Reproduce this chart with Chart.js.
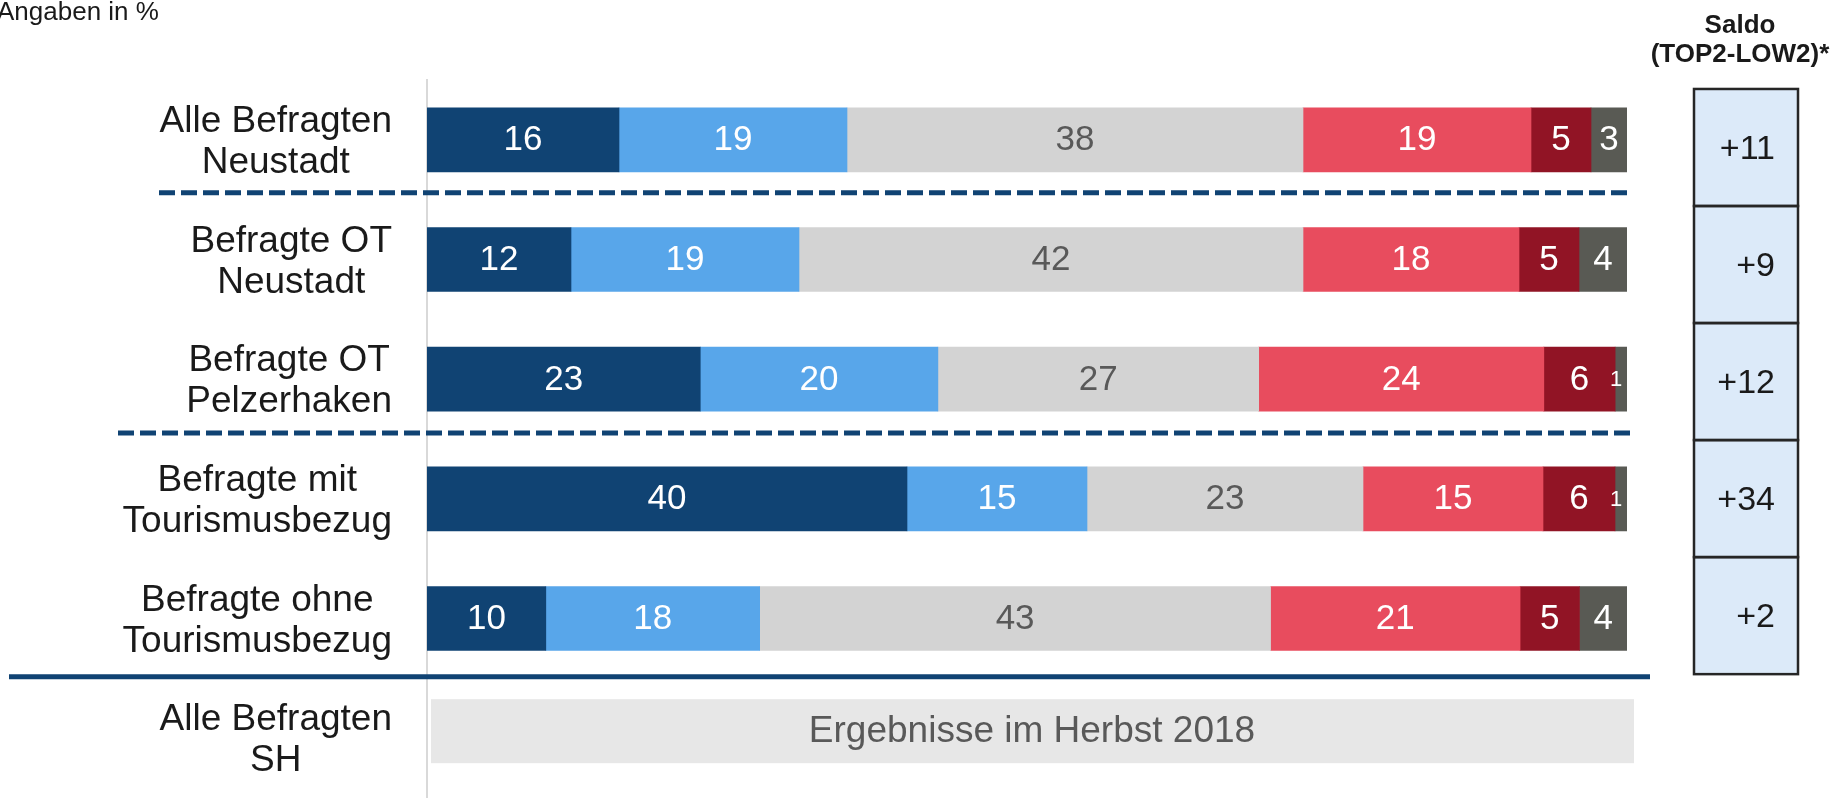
<!DOCTYPE html>
<html>
<head>
<meta charset="utf-8">
<script src="https://cdn.jsdelivr.net/npm/chart.js@4/dist/chart.umd.min.js"></script>
<style>
html,body{margin:0;padding:0;background:#fff;overflow:hidden}
#wrap{position:relative;width:1835px;height:798px}
</style>
</head>
<body>
<div id="wrap"><canvas id="c" width="1835" height="798"></canvas></div>
<script>
// ---- data ----
const categories = [
  ["Alle Befragten", "Neustadt"],
  ["Befragte OT", "Neustadt"],
  ["Befragte OT", "Pelzerhaken"],
  ["Befragte mit", "Tourismusbezug"],
  ["Befragte ohne", "Tourismusbezug"],
  ["Alle Befragten", "SH"]
];
const seriesNames = ["Top 1", "Top 2", "Mitte", "Low 2", "Low 1", "k.A."];
const top1   = [16, 12, 23, 40, 10, null];
const top2   = [19, 19, 20, 15, 18, null];
const middle = [38, 42, 27, 23, 43, null];
const low2   = [19, 18, 24, 15, 21, null];
const low1   = [5, 5, 6, 6, 5, null];
const noAns  = [3, 4, 1, 1, 4, null];
const saldo  = ["+11", "+9", "+12", "+34", "+2"];
const saldoTitle = ["Saldo", "(TOP2-LOW2)*"];
const unitNote = "Angaben in %";
const shNote = "Ergebnisse im Herbst 2018";

// ---- styles ----
const colors = ["#104373", "#58a6ea", "#d3d3d3", "#e84c5e", "#911425", "#595a54"];
const labelColors = ["#ffffff", "#ffffff", "#595959", "#ffffff", "#ffffff", "#ffffff"];
const FONT = '"Liberation Sans", Arial, Helvetica, sans-serif';

const raw = [top1, top2, middle, low2, low1, noAns];
const rowSum = categories.map((_, i) => raw.reduce((s, arr) => s + (arr[i] || 0), 0));
const plotted = raw.map(arr => arr.map((v, i) => v == null ? null : v / rowSum[i] * 100));

const datasets = raw.map((arr, k) => ({
  label: seriesNames[k],
  data: plotted[k],
  rawValues: arr,
  backgroundColor: colors[k],
  borderWidth: 0,
  barThickness: 64,
  labelColor: labelColors[k]
}));

const overlay = {
  id: 'overlay',
  afterDatasetsDraw(chart) {
    const {ctx} = chart;
    ctx.save();
    ctx.textAlign = 'center';
    ctx.textBaseline = 'middle';
    chart.data.datasets.forEach((ds, di) => {
      const meta = chart.getDatasetMeta(di);
      meta.data.forEach((el, i) => {
        const v = ds.rawValues[i];
        if (v == null) return;
        let xc = (el.x + el.base) / 2;
        if (v < 2) {
          ctx.font = '22px ' + FONT;
          xc -= 5;
        } else {
          ctx.font = '35px ' + FONT;
        }
        ctx.fillStyle = ds.labelColor;
        ctx.fillText(String(v), xc, el.y + 1);
      });
    });
    ctx.restore();
  },
  afterDraw(chart) {
    const {ctx, chartArea, scales: {x, y}} = chart;
    const c = i => y.getPixelForValue(i);
    const step = c(1) - c(0);
    const x0 = x.getPixelForValue(0), x100 = x.getPixelForValue(100);
    ctx.save();

    // unit note
    ctx.fillStyle = '#1a1a1a';
    ctx.font = '26px ' + FONT;
    ctx.textAlign = 'left';
    ctx.textBaseline = 'alphabetic';
    ctx.fillText(unitNote, -3, 20);

    // category labels (lines centered within a right-aligned block)
    ctx.font = '37px ' + FONT;
    ctx.fillStyle = '#1a1a1a';
    ctx.textAlign = 'center';
    const rightEdge = chartArea.left - 35;
    categories.forEach((lines, i) => {
      const w = Math.max(...lines.map(l => ctx.measureText(l).width));
      const cx = rightEdge - w / 2;
      const cy = c(i);
      ctx.fillText(lines[0], cx, cy - 8);
      ctx.fillText(lines[1], cx, cy + 33);
    });

    // separators
    ctx.strokeStyle = '#104373';
    ctx.lineWidth = 5;
    ctx.setLineDash([16, 6]);
    const d1 = (c(0) + c(1)) / 2 - 7;
    ctx.beginPath(); ctx.moveTo(159, d1); ctx.lineTo(x100 + 6, d1); ctx.stroke();
    const d2 = (c(2) + c(3)) / 2 - 6;
    ctx.beginPath(); ctx.moveTo(118, d2); ctx.lineTo(x100 + 6, d2); ctx.stroke();
    ctx.setLineDash([]);
    const d3 = (c(4) + c(5)) / 2 - 1.5;
    ctx.beginPath(); ctx.moveTo(9, d3); ctx.lineTo(x100 + 23, d3); ctx.stroke();

    // SH placeholder box
    const shTop = c(5) - 39, shBot = c(5) + 25;
    ctx.fillStyle = '#e7e7e7';
    ctx.fillRect(x0 + 4, shTop, (x100 + 7) - (x0 + 4), shBot - shTop);
    ctx.fillStyle = '#595959';
    ctx.font = '37px ' + FONT;
    ctx.textAlign = 'center';
    ctx.textBaseline = 'middle';
    ctx.fillText(shNote, (x0 + x100) / 2 + 5, (shTop + shBot) / 2 + 1);

    // saldo column
    const bx0 = x100 + 67, bx1 = x100 + 171;
    const bTop = c(0) - 0.425 * step, bBot = c(4) + 0.465 * step;
    const bh = (bBot - bTop) / saldo.length;
    ctx.fillStyle = '#dceaf9';
    ctx.fillRect(bx0, bTop, bx1 - bx0, bBot - bTop);
    ctx.strokeStyle = '#262626';
    ctx.lineWidth = 2.5;
    for (let i = 0; i < saldo.length; i++) {
      ctx.strokeRect(bx0, bTop + i * bh, bx1 - bx0, bh);
    }
    ctx.fillStyle = '#1a1a1a';
    ctx.font = '34px ' + FONT;
    ctx.textAlign = 'right';
    ctx.textBaseline = 'middle';
    saldo.forEach((s, i) => {
      ctx.fillText(s, bx1 - 23, bTop + (i + 0.5) * bh + 2);
    });

    // saldo heading
    ctx.font = 'bold 26px ' + FONT;
    ctx.textAlign = 'center';
    ctx.textBaseline = 'alphabetic';
    ctx.fillText(saldoTitle[0], 1740, 33);
    ctx.fillText(saldoTitle[1], 1740, 62);

    ctx.restore();
  }
};

new Chart(document.getElementById('c'), {
  type: 'bar',
  data: {
    labels: categories,
    datasets: datasets
  },
  options: {
    indexAxis: 'y',
    responsive: false,
    animation: false,
    maintainAspectRatio: false,
    layout: {padding: {top: 80, right: 208, bottom: 0, left: 0}},
    plugins: {legend: {display: false}, tooltip: {enabled: false}},
    scales: {
      x: {stacked: true, min: 0, max: 100, display: false},
      y: {
        stacked: true,
        grid: {display: false, drawTicks: false},
        border: {display: true, color: '#d9d9d9', width: 2},
        ticks: {display: false},
        afterFit(scale) { scale.width = 427; }
      }
    }
  },
  plugins: [overlay]
});
</script>
</body>
</html>
